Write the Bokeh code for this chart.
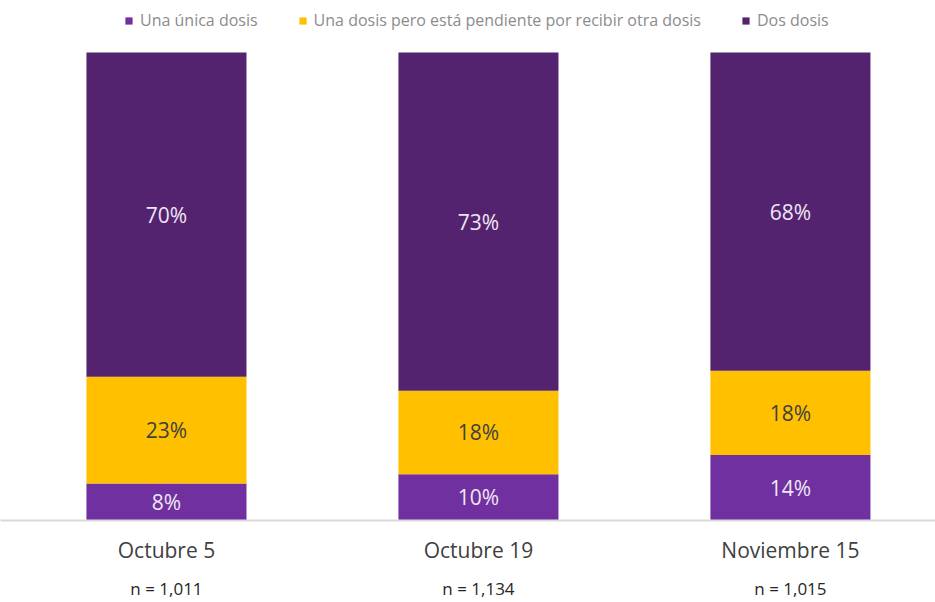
from bokeh.plotting import figure
from bokeh.models import ColumnDataSource, Range1d, LinearAxis, FixedTicker, Legend, LegendItem
from bokeh.core.properties import value
from bokeh.embed import file_html
from bokeh.resources import INLINE

categories = ["Octubre 5", "Octubre 19", "Noviembre 15"]
n_labels = ["n = 1,011", "n = 1,134", "n = 1,015"]
unica = [8, 10, 14]
pendiente = [23, 18, 18]
dos = [70, 73, 68]
series_names = ["Una única dosis", "Una dosis pero está pendiente por recibir otra dosis", "Dos dosis"]
colors = ["#7030A0", "#FFC000", "#54236F"]
label_colors = ["#EFE6F5", "#404040", "#EFE6F5"]

FONT = "Open Sans"
xs = list(range(len(categories)))

# 100% stacked: each bar normalised to its total (as in the original chart)
stack = [unica, pendiente, dos]
totals = [sum(s[i] for s in stack) for i in range(len(xs))]
shares = [[v / t * 100 for v, t in zip(s, totals)] for s in stack]
keys = ["unica", "pendiente", "dos"]
src = ColumnDataSource(dict(x=xs, **{k: sh for k, sh in zip(keys, shares)}))

FRAME_H = 602 - 82
TOP_PAD = 52
p = figure(width=935, height=602, output_backend="svg", toolbar_location=None,
           x_range=Range1d(-0.532, 2.465),
           y_range=Range1d(0, 100 * FRAME_H / (FRAME_H - TOP_PAD)),
           min_border_left=0, min_border_right=0, min_border_top=0, min_border_bottom=82)
p.xaxis.visible = False
p.yaxis.visible = False
p.xgrid.visible = False
p.ygrid.visible = False
p.outline_line_color = None
p.background_fill_color = "white"
p.border_fill_color = "white"

renderers = p.vbar_stack(keys, x="x", width=0.513, source=src,
                         color=colors, line_color=None)

# segment labels (raw values, centred in each normalised segment)
for k, vals in enumerate(stack):
    bottoms = [sum(s[i] for s in shares[:k]) for i in range(len(xs))]
    mids = [b + sh / 2 for b, sh in zip(bottoms, shares[k])]
    lsrc = ColumnDataSource(dict(x=xs, y=mids, t=[f"{v}%" for v in vals]))
    p.text(x="x", y="y", text="t", source=lsrc, text_align="center", text_baseline="middle",
           text_font=value(FONT), text_font_size="21px", text_color=label_colors[k])

# category axis
ax1 = LinearAxis(ticker=FixedTicker(ticks=xs),
                 major_label_overrides={i: c for i, c in enumerate(categories)})
ax1.axis_line_color = "#D9D9D9"
ax1.axis_line_width = 2
ax1.major_tick_line_color = None
ax1.minor_tick_line_color = None
ax1.major_label_standoff = 9
ax1.major_label_text_font = FONT
ax1.major_label_text_font_size = "21px"
ax1.major_label_text_color = "#404040"
p.add_layout(ax1, "below")

ax2 = LinearAxis(ticker=FixedTicker(ticks=xs),
                 major_label_overrides={i: c for i, c in enumerate(n_labels)})
ax2.axis_line_color = None
ax2.major_tick_line_color = None
ax2.minor_tick_line_color = None
ax2.major_label_standoff = 4
ax2.major_label_text_font = FONT
ax2.major_label_text_font_size = "17px"
ax2.major_label_text_color = "#262626"
p.add_layout(ax2, "below")

legend = Legend(items=[LegendItem(label=n, renderers=[r]) for n, r in zip(series_names, renderers)],
                orientation="horizontal", location=(124, FRAME_H - 31), margin=0,
                glyph_width=9, glyph_height=9, label_text_font=FONT, label_text_font_size="16px",
                label_text_color="#8C8C8C", spacing=40, padding=4, label_standoff=7,
                border_line_color=None, background_fill_alpha=0)
p.add_layout(legend, "center")

open("out.html", "w").write(file_html(p, INLINE))
